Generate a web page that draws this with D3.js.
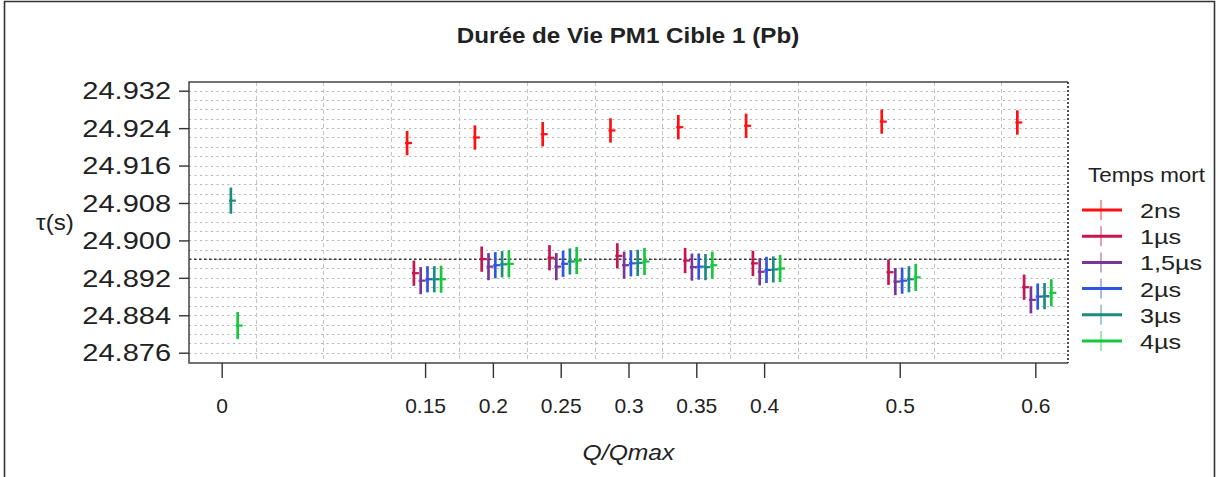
<!DOCTYPE html>
<html lang="fr">
<head>
<meta charset="UTF-8">
<title>Durée de Vie PM1 Cible 1 (Pb)</title>
<style>
  body { margin: 0; background: #fff; }
  text { font-family: "Liberation Sans", Arial, sans-serif; fill: #222; }
</style>
</head>
<body>
<script src="https://d3js.org/d3.v7.min.js"></script>
<script>
// données
var qValues = [0, 0.15, 0.2, 0.25, 0.3, 0.35, 0.4, 0.5, 0.6];
var xTickLabels = ["0", "0.15", "0.2", "0.25", "0.3", "0.35", "0.4", "0.5", "0.6"];
var yTicks = [24.876, 24.884, 24.892, 24.900, 24.908, 24.916, 24.924, 24.932];
var seriesNames = ["2ns", "1µs", "1,5µs", "2µs", "3µs", "4µs"];
var tau2ns  = [null, 24.9208, 24.9220, 24.9227, 24.9235, 24.9242, 24.9245, 24.9254, 24.9252];
var tau1us  = [null, 24.8930, 24.8960, 24.8963, 24.8967, 24.8957, 24.8951, 24.8932, 24.8900];
var tau15us = [null, 24.8914, 24.8944, 24.8944, 24.8947, 24.8943, 24.8933, 24.8912, 24.8873];
var tau2us  = [null, 24.8917, 24.8947, 24.8950, 24.8951, 24.8944, 24.8937, 24.8914, 24.8880];
var tau3us  = [24.9085, 24.8917, 24.8949, 24.8955, 24.8952, 24.8943, 24.8938, 24.8917, 24.8881];
var tau4us  = [24.8818, 24.8917, 24.8950, 24.8957, 24.8955, 24.8947, 24.8940, 24.8921, 24.8888];
var errors  = [0.0026, 0.0027, 0.0029, 0.0028, 0.0028, 0.0029];
var refLine = 24.896;

var colors = ["#ff1010", "#c8154c", "#7b3596", "#2f56e0", "#1d8c80", "#16c83c"];
var allSeries = [tau2ns, tau1us, tau15us, tau2us, tau3us, tau4us];

var width = 1218, height = 477;
var plot = { left: 189, right: 1068, top: 82, bottom: 363 };
var dodge = 6.8; // écart horizontal entre séries (px)

// étire un texte horizontalement (police du modèle plus large)
function stretch(sel, f) {
    sel.each(function() {
        var w = this.getComputedTextLength();
        d3.select(this).attr('textLength', w * f).attr('lengthAdjust', 'spacingAndGlyphs');
    });
}

var svg = d3.select('body').append('svg').attr('width', width).attr('height', height);

// cadre extérieur
svg.append('path')
    .attr('d', 'M4.5,477 V1.5 H1214.5 V477')
    .attr('fill', 'none').attr('stroke', '#333').attr('stroke-width', 1.6);

var x = d3.scaleLinear().domain([-0.0241, 0.6241]).range([plot.left, plot.right]);
var y = d3.scaleLinear().domain([24.87380, 24.93386]).range([plot.bottom, plot.top]);

// grille horizontale (pointillés tous les 0.002)
var hGrid = d3.range(24.876, 24.9335, 0.002);
svg.append('g').selectAll('line').data(hGrid).enter().append('line')
    .attr('x1', plot.left).attr('x2', plot.right)
    .attr('y1', function(d) { return Math.round(y(d)) + 0.5; })
    .attr('y2', function(d) { return Math.round(y(d)) + 0.5; })
    .attr('stroke', '#b4b4b4').attr('stroke-width', 1.1).attr('stroke-dasharray', '2,3.5');

// grille verticale
var vGrid = d3.range(0.025, 0.6, 0.05);
svg.append('g').selectAll('line').data(vGrid).enter().append('line')
    .attr('x1', function(d) { return Math.round(x(d)) + 0.5; })
    .attr('x2', function(d) { return Math.round(x(d)) + 0.5; })
    .attr('y1', plot.top).attr('y2', plot.bottom)
    .attr('stroke', '#c4c4c4').attr('stroke-width', 1).attr('stroke-dasharray', '4,3');

// ligne de référence
svg.append('line')
    .attr('x1', plot.left).attr('x2', plot.right)
    .attr('y1', y(refLine)).attr('y2', y(refLine))
    .attr('stroke', '#333').attr('stroke-width', 1.5).attr('stroke-dasharray', '2.5,2.5');

// bordure du graphe
svg.append('path')
    .attr('d', 'M' + plot.right + ',' + plot.top + ' H' + plot.left + ' V' + plot.bottom + ' H' + plot.right)
    .attr('fill', 'none').attr('stroke', '#444').attr('stroke-width', 1.5);
svg.append('line')
    .attr('x1', plot.right).attr('x2', plot.right).attr('y1', plot.top).attr('y2', plot.bottom)
    .attr('stroke', '#222').attr('stroke-width', 1.6).attr('stroke-dasharray', '2,2');

// axe y
var yAxis = svg.append('g').attr('transform', 'translate(' + plot.left + ',0)')
    .call(d3.axisLeft(y).tickValues(yTicks).tickFormat(d3.format('.3f')).tickSize(10).tickPadding(8));
yAxis.select('.domain').remove();
yAxis.selectAll('line').attr('stroke', '#333').attr('stroke-width', 1.4);
yAxis.selectAll('text').style('font-size', '23px').attr('fill', '#222').attr('dy', '0.36em');
stretch(yAxis.selectAll('text'), 1.26);

// axe x
var xAxis = svg.append('g').attr('transform', 'translate(0,' + plot.bottom + ')')
    .call(d3.axisBottom(x).tickValues(qValues).tickFormat(function(d, i) { return xTickLabels[i]; })
        .tickSize(15).tickPadding(20));
xAxis.select('.domain').remove();
xAxis.selectAll('line').attr('stroke', '#333').attr('stroke-width', 1.4);
xAxis.selectAll('text').style('font-size', '21px').attr('fill', '#222');

// barres d'erreur
allSeries.forEach(function(vals, s) {
    var g = svg.append('g');
    var pts = vals.map(function(v, i) { return { q: qValues[i], v: v }; })
        .filter(function(d) { return d.v !== null; });
    var off = (s - 2.5) * dodge - 1;
    g.selectAll('.bar').data(pts).enter().append('line')
        .attr('x1', function(d) { return x(d.q) + off; })
        .attr('x2', function(d) { return x(d.q) + off; })
        .attr('y1', function(d) { return y(d.v + errors[s]); })
        .attr('y2', function(d) { return y(d.v - errors[s]); })
        .attr('stroke', colors[s]).attr('stroke-width', 2.7);
    g.selectAll('.mid').data(pts).enter().append('line')
        .attr('x1', function(d) { return x(d.q) + off - 2; })
        .attr('x2', function(d) { return x(d.q) + off + 5; })
        .attr('y1', function(d) { return y(d.v); })
        .attr('y2', function(d) { return y(d.v); })
        .attr('stroke', colors[s]).attr('stroke-width', 2.2);
});

// titres
var title = svg.append('text').attr('x', 628).attr('y', 43).attr('text-anchor', 'middle')
    .style('font-size', '22px').style('font-weight', 'bold').text('Durée de Vie PM1 Cible 1 (Pb)');
stretch(title, 1.1);
var xTitle = svg.append('text').attr('x', 628.5).attr('y', 460).attr('text-anchor', 'middle')
    .style('font-size', '22px').style('font-style', 'italic').text('Q/Qmax');
stretch(xTitle, 1.12);
var yTitle = svg.append('text').attr('x', 55).attr('y', 230).attr('text-anchor', 'middle')
    .style('font-size', '22px').text('τ(s)');
stretch(yTitle, 1.1);

// légende
var legend = svg.append('g').attr('transform', 'translate(1082,0)');
var lt = legend.append('text').attr('x', 6).attr('y', 182).style('font-size', '20px').text('Temps mort');
stretch(lt, 1.12);
seriesNames.forEach(function(name, i) {
    var ly = 210 + i * 26.2;
    legend.append('line').attr('x1', 0).attr('x2', 40).attr('y1', ly).attr('y2', ly)
        .attr('stroke', colors[i]).attr('stroke-width', 3);
    legend.append('line').attr('x1', 19).attr('x2', 19).attr('y1', ly - 10).attr('y2', ly + 10)
        .attr('stroke', colors[i]).attr('stroke-width', 1.2).attr('stroke-opacity', 0.7);
    var t = legend.append('text').attr('x', 58).attr('y', ly + 8).style('font-size', '21px').text(name);
    stretch(t, 1.2);
});
</script>
</body>
</html>
